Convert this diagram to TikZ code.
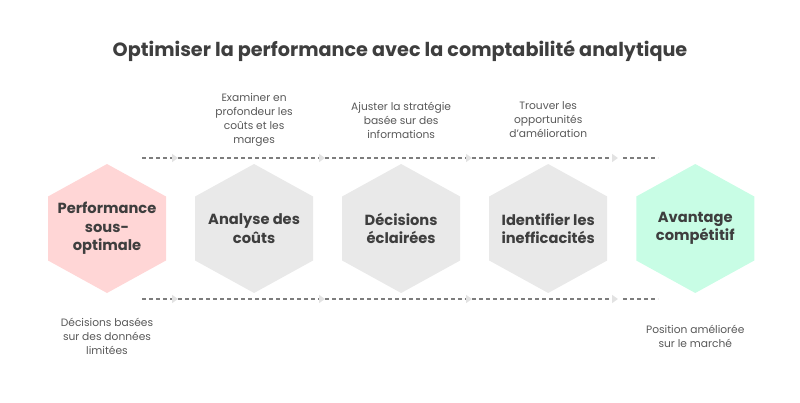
\documentclass[tikz,border=0pt]{standalone}
\usepackage{fontspec}
\setmainfont{Poppins}
\usetikzlibrary{arrows.meta,calc,positioning}
\definecolor{textColor}{RGB}{62,62,62}
\definecolor{noteColor}{RGB}{88,88,88}
\definecolor{lineColor}{RGB}{125,125,125}
\definecolor{tipColor}{RGB}{226,226,226}
\definecolor{lowColor}{RGB}{255,214,214}
\definecolor{stepColor}{RGB}{233,233,233}
\definecolor{goalColor}{RGB}{200,253,229}
\tikzset{hexagon/.style={align=center, minimum width=88.5pt, minimum height=96.75pt, inner sep=0pt, text=textColor, font=\fontsize{11}{13.9}\selectfont\bfseries}}
\tikzset{note/.style={align=center, text=noteColor, font=\fontsize{8}{10.5}\selectfont}}
\tikzset{flow/.style={draw=lineColor, line width=1.1pt, dash pattern=on 3pt off 2.25pt, -{Triangle[length=4.5pt, width=6pt, color=tipColor]}}}

\begin{document}
\begin{tikzpicture}[x=0.75pt, y=-0.75pt, node distance=0pt and 21.4pt]
\pgfdeclarelayer{background}
\pgfsetlayers{background,main}
\useasboundingbox (0,0) rectangle (800,403);

% Title
\node (title) at (400,51) [text=textColor, font=\fontsize{14.4}{17}\selectfont\bfseries] {Optimiser la performance avec la comptabilité analytique};

% Nodes
\node (low) at (107,228.5) [hexagon] {Performance\\sous-\\optimale};
\node (costs) [hexagon, right=of low] {Analyse des\\coûts};
\node (decide) [hexagon, right=of costs] {Décisions\\éclairées};
\node (waste) [hexagon, right=of decide] {Identifier les\\inefficacités};
\node (edge) [hexagon, right=of waste] {Avantage\\compétitif};

\begin{pgfonlayer}{background}
\foreach \n/\c in {low/lowColor, costs/stepColor, decide/stepColor, waste/stepColor, edge/goalColor}
  \fill[\c] (\n.center) ++(0,-64.5) -- ++(59,32.5) -- ++(0,64) -- ++(-59,32.5) -- ++(-59,-32.5) -- ++(0,-64) -- cycle;
\end{pgfonlayer}

% Notes
\node (lowNote) at ($(low)+(0,107.5)$) [note] {Décisions basées\\sur des données\\limitées};
\node (costsNote) at ($(costs)+(0,-108.5)$) [note] {Examiner en\\profondeur les\\coûts et les\\marges};
\node (decideNote) at ($(decide)+(0,-108.5)$) [note] {Ajuster la stratégie\\basée sur des\\informations};
\node (wasteNote) at ($(waste)+(0,-108.5)$) [note] {Trouver les\\opportunités\\d'amélioration};
\node (edgeNote) at ($(edge)+(0,107.5)$) [note] {Position améliorée\\sur le marché};

% Connectors
\foreach \y/\r in {158/t, 299/b} {
  \coordinate (\r0) at (142,\y);
  \coordinate (\r1) at (178,\y);
  \coordinate (\r2) at (325,\y);
  \coordinate (\r3) at (472,\y);
  \coordinate (\r4) at (618,\y);
  \coordinate (\r5) at (658,\y);
  \draw[flow] (\r0) -- (\r1);
  \draw[flow] (\r1) -- (\r2);
  \draw[flow] (\r2) -- (\r3);
  \draw[flow] (\r3) -- (\r4);
  \draw[flow, -] ($(\r4)+(5,0)$) -- (\r5);
}

\end{tikzpicture}
\end{document}
